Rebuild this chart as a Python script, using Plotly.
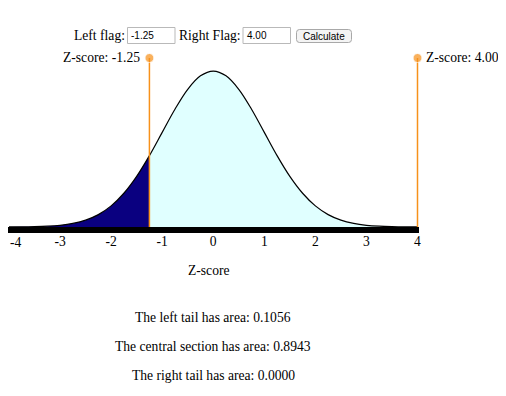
import plotly.graph_objects as go

# ---------------- data ----------------
z_grid = [-4.0, -3.75, -3.5, -3.25, -3.0, -2.75, -2.5, -2.25, -2.0, -1.75, -1.5, -1.25,
          -1.0, -0.75, -0.5, -0.25, 0.0, 0.25, 0.5, 0.75, 1.0, 1.25, 1.5, 1.75,
          2.0, 2.25, 2.5, 2.75, 3.0, 3.25, 3.5, 3.75, 4.0]
density = [0.0001, 0.0004, 0.0009, 0.0020, 0.0044, 0.0091, 0.0175, 0.0317, 0.0540, 0.0863, 0.1295, 0.1826,
           0.2420, 0.3011, 0.3521, 0.3867, 0.3989, 0.3867, 0.3521, 0.3011, 0.2420, 0.1826, 0.1295, 0.0863,
           0.0540, 0.0317, 0.0175, 0.0091, 0.0044, 0.0020, 0.0009, 0.0004, 0.0001]
left_flag = -1.25
right_flag = 4.00
area_names = ["left tail", "central section", "right tail"]
area_values = [0.1056, 0.8943, 0.0000]
tick_vals = [-4, -3, -2, -1, 0, 1, 2, 3, 4]

# ---------------- layout geometry ----------------
OFF = 8  # page body margin
W, H = 506 - OFF, 396 - OFF
PLOT_LEFT_REF, PLOT_RIGHT_REF = 8, 419
PLOT_TOP_REF, PLOT_BOTTOM_REF = 8, 227
L = PLOT_LEFT_REF - OFF
R = W - (PLOT_RIGHT_REF - OFF)
T = PLOT_TOP_REF - OFF
B = H - (PLOT_BOTTOM_REF - OFF)
PW, PH = W - L - R, H - T - B
PX_PER_UNIT = 51.06
X_RANGE = [-4 - 1.0 / PX_PER_UNIT, 4 + 1.5 / PX_PER_UNIT]
Y_SCALE = 391.0  # px per density unit
Y_RANGE = [0, PH / Y_SCALE]
FLAG_TOP = (227 - 58) / Y_SCALE


def fx(px):
    return (px - OFF - L) / PW


def fy(py):
    return 1 - (py - OFF - T) / PH


SERIF = "Liberation Serif, Times New Roman, Times, serif"
SANS = "Liberation Sans, Arial, Helvetica, sans-serif"
ORANGE = "#f7911a"
FS = 13.6

fig = go.Figure()


def segment(lo, hi):
    xs, ys = [], []
    for z, d in zip(z_grid, density):
        if lo <= z <= hi:
            xs.append(z)
            ys.append(d)
    return xs, ys


lx, ly = segment(-4, left_flag)
cx, cy = segment(left_flag, right_flag)
rx, ry = segment(right_flag, 4)

fig.add_trace(go.Scatter(x=lx, y=ly, mode="lines", line=dict(width=0, shape="spline"),
                         fill="tozeroy", fillcolor="#0a0080", hoverinfo="skip", showlegend=False))
fig.add_trace(go.Scatter(x=cx, y=cy, mode="lines", line=dict(width=0, shape="spline"),
                         fill="tozeroy", fillcolor="#e0ffff", hoverinfo="skip", showlegend=False))
fig.add_trace(go.Scatter(x=rx, y=ry, mode="lines", line=dict(width=0, shape="spline"),
                         fill="tozeroy", fillcolor="#0a0080", hoverinfo="skip", showlegend=False))
fig.add_trace(go.Scatter(x=z_grid, y=density, mode="lines",
                         line=dict(color="black", width=1.2, shape="spline"),
                         hoverinfo="skip", showlegend=False))

for flag in (left_flag, right_flag):
    fig.add_trace(go.Scatter(x=[flag, flag], y=[0, FLAG_TOP], mode="lines+markers",
                             line=dict(color=ORANGE, width=1.5),
                             marker=dict(color=ORANGE, size=[0, 9]),
                             cliponaxis=False, hoverinfo="skip", showlegend=False))

annotations = []
# flag labels
annotations.append(dict(x=left_flag, y=FLAG_TOP, xref="x", yref="y", text=f"Z-score: {left_flag:.2f}",
                        xanchor="right", yanchor="middle", xshift=-7, yshift=1, showarrow=False,
                        font=dict(family=SERIF, size=FS, color="black")))
annotations.append(dict(x=right_flag, y=FLAG_TOP, xref="x", yref="y", text=f"Z-score: {right_flag:.2f}",
                        xanchor="left", yanchor="middle", xshift=6, yshift=1, showarrow=False,
                        font=dict(family=SERIF, size=FS, color="black")))
# first tick label sits at the very page edge: drawn as text flush with the figure edge
annotations.append(dict(x=0, y=fy(242.5), xref="paper", yref="paper", text=str(tick_vals[0]),
                        xanchor="left", yanchor="middle", showarrow=False,
                        font=dict(family=SERIF, size=FS, color="black")))
# axis title
annotations.append(dict(x=fx(209), y=fy(270), xref="paper", yref="paper", text="Z-score",
                        xanchor="center", yanchor="middle", showarrow=False,
                        font=dict(family=SERIF, size=FS, color="black")))
# area texts
for i, (nm, val) in enumerate(zip(area_names, area_values)):
    annotations.append(dict(x=0, y=fy(317 + 29 * i), xref="x", yref="paper",
                            text=f"The {nm} has area: {val:.4f}",
                            xanchor="center", yanchor="middle", showarrow=False,
                            font=dict(family=SERIF, size=FS, color="black")))

# top control row
annotations.append(dict(x=fx(71.7), y=fy(35.5), xref="paper", yref="paper", text="Left flag:",
                        xanchor="left", yanchor="middle", showarrow=False,
                        font=dict(family=SERIF, size=FS, color="black")))
annotations.append(dict(x=fx(177.3), y=fy(35.5), xref="paper", yref="paper", text="Right Flag:",
                        xanchor="left", yanchor="middle", showarrow=False,
                        font=dict(family=SERIF, size=FS, color="black")))
annotations.append(dict(x=fx(129), y=fy(35.5), xref="paper", yref="paper", text=f"{left_flag:.2f}",
                        xanchor="left", yanchor="middle", showarrow=False,
                        font=dict(family=SANS, size=10, color="black")))
annotations.append(dict(x=fx(244.7), y=fy(35.5), xref="paper", yref="paper", text=f"{right_flag:.2f}",
                        xanchor="left", yanchor="middle", showarrow=False,
                        font=dict(family=SANS, size=10, color="black")))
annotations.append(dict(x=fx(323.9), y=fy(36), xref="paper", yref="paper", text="Calculate",
                        xanchor="center", yanchor="middle", showarrow=False,
                        font=dict(family=SANS, size=10, color="black")))

shapes = []
for (x0, x1) in ((127.5, 175), (243, 290.5)):
    shapes.append(dict(type="rect", xref="paper", yref="paper",
                       x0=fx(x0), x1=fx(x1), y0=fy(43.5), y1=fy(27.5),
                       line=dict(color="#b9b9b9", width=1), fillcolor="white"))


def rounded(x0, y0, x1, y1, r):
    a0, a1 = fx(x0), fx(x1)
    b0, b1 = fy(y0), fy(y1)  # b0 top (larger), b1 bottom
    rx_ = r / PW
    ry_ = r / PH
    return (f"M{a0 + rx_},{b0} L{a1 - rx_},{b0} Q{a1},{b0} {a1},{b0 - ry_} "
            f"L{a1},{b1 + ry_} Q{a1},{b1} {a1 - rx_},{b1} L{a0 + rx_},{b1} "
            f"Q{a0},{b1} {a0},{b1 + ry_} L{a0},{b0 - ry_} Q{a0},{b0} {a0 + rx_},{b0} Z")


shapes.append(dict(type="path", xref="paper", yref="paper",
                   path=rounded(296.5, 29.5, 351.5, 42.5, 3),
                   line=dict(color="#a8a8a8", width=1), fillcolor="#f4f4f4"))

fig.update_layout(
    width=W, height=H,
    margin=dict(l=L, r=R, t=T, b=B, pad=0),
    paper_bgcolor="white", plot_bgcolor="white",
    xaxis=dict(range=X_RANGE, tickvals=tick_vals[1:], ticktext=[str(v) for v in tick_vals[1:]],
               showline=True, linewidth=6, linecolor="black", ticks="",
               ticklabelstandoff=-3,
               showgrid=False, zeroline=False, fixedrange=True,
               tickfont=dict(family=SERIF, size=FS, color="black")),
    yaxis=dict(range=Y_RANGE, visible=False, showgrid=False, zeroline=False, fixedrange=True),
    annotations=annotations,
    shapes=shapes,
    showlegend=False,
)

fig.write_html("out.html")
